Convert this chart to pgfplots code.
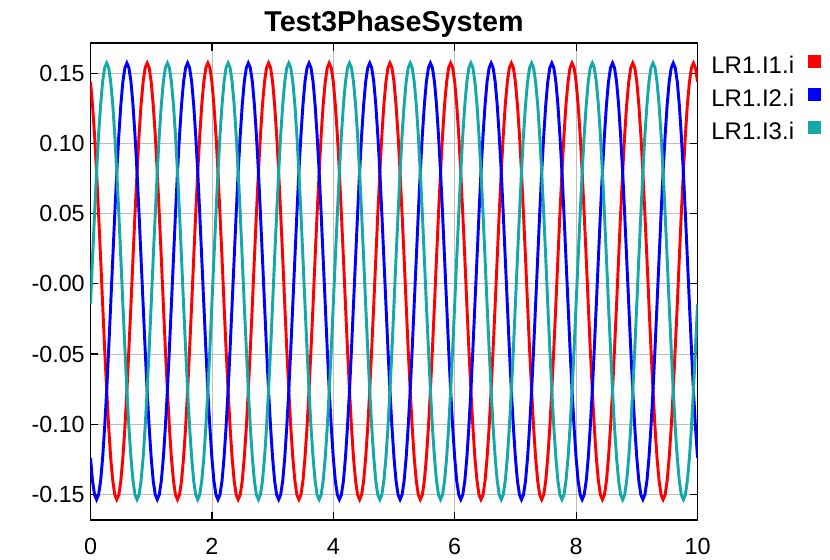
\documentclass[border=0pt]{standalone}
\usepackage{pgfplots}
\pgfplotsset{compat=1.18}
\usepackage{pgfplotstable}
\usepackage{fontspec}
\setmainfont{Liberation Sans}

\definecolor{ired}{RGB}{255,0,0}
\definecolor{iblue}{RGB}{0,0,255}
\definecolor{iteal}{RGB}{20,168,168}

% t, LR1.I1.i, LR1.I2.i, LR1.I3.i
\pgfplotstableread{
t i1 i2 i3
0.000 0.1439 -0.1240 -0.0145
0.033 0.1276 -0.1403 0.0181
0.067 0.1059 -0.1503 0.0499
0.100 0.0796 -0.1537 0.0796
0.133 0.0499 -0.1503 0.1059
0.167 0.0181 -0.1403 0.1276
0.200 -0.0145 -0.1240 0.1439
0.233 -0.0463 -0.1023 0.1539
0.267 -0.0760 -0.0760 0.1573
0.300 -0.1023 -0.0463 0.1539
0.333 -0.1240 -0.0145 0.1439
0.367 -0.1403 0.0181 0.1276
0.400 -0.1503 0.0499 0.1059
0.433 -0.1537 0.0796 0.0796
0.467 -0.1503 0.1059 0.0499
0.500 -0.1403 0.1276 0.0181
0.533 -0.1240 0.1439 -0.0145
0.567 -0.1023 0.1539 -0.0463
0.600 -0.0760 0.1573 -0.0760
0.633 -0.0463 0.1539 -0.1023
0.667 -0.0145 0.1439 -0.1240
0.700 0.0181 0.1276 -0.1403
0.733 0.0499 0.1059 -0.1503
0.767 0.0796 0.0796 -0.1537
0.800 0.1059 0.0499 -0.1503
0.833 0.1276 0.0181 -0.1403
0.867 0.1439 -0.0145 -0.1240
0.900 0.1539 -0.0463 -0.1023
0.933 0.1573 -0.0760 -0.0760
0.967 0.1539 -0.1023 -0.0463
1.000 0.1439 -0.1240 -0.0145
1.033 0.1276 -0.1403 0.0181
1.067 0.1059 -0.1503 0.0499
1.100 0.0796 -0.1537 0.0796
1.133 0.0499 -0.1503 0.1059
1.167 0.0181 -0.1403 0.1276
1.200 -0.0145 -0.1240 0.1439
1.233 -0.0463 -0.1023 0.1539
1.267 -0.0760 -0.0760 0.1573
1.300 -0.1023 -0.0463 0.1539
1.333 -0.1240 -0.0145 0.1439
1.367 -0.1403 0.0181 0.1276
1.400 -0.1503 0.0499 0.1059
1.433 -0.1537 0.0796 0.0796
1.467 -0.1503 0.1059 0.0499
1.500 -0.1403 0.1276 0.0181
1.533 -0.1240 0.1439 -0.0145
1.567 -0.1023 0.1539 -0.0463
1.600 -0.0760 0.1573 -0.0760
1.633 -0.0463 0.1539 -0.1023
1.667 -0.0145 0.1439 -0.1240
1.700 0.0181 0.1276 -0.1403
1.733 0.0499 0.1059 -0.1503
1.767 0.0796 0.0796 -0.1537
1.800 0.1059 0.0499 -0.1503
1.833 0.1276 0.0181 -0.1403
1.867 0.1439 -0.0145 -0.1240
1.900 0.1539 -0.0463 -0.1023
1.933 0.1573 -0.0760 -0.0760
1.967 0.1539 -0.1023 -0.0463
2.000 0.1439 -0.1240 -0.0145
2.033 0.1276 -0.1403 0.0181
2.067 0.1059 -0.1503 0.0499
2.100 0.0796 -0.1537 0.0796
2.133 0.0499 -0.1503 0.1059
2.167 0.0181 -0.1403 0.1276
2.200 -0.0145 -0.1240 0.1439
2.233 -0.0463 -0.1023 0.1539
2.267 -0.0760 -0.0760 0.1573
2.300 -0.1023 -0.0463 0.1539
2.333 -0.1240 -0.0145 0.1439
2.367 -0.1403 0.0181 0.1276
2.400 -0.1503 0.0499 0.1059
2.433 -0.1537 0.0796 0.0796
2.467 -0.1503 0.1059 0.0499
2.500 -0.1403 0.1276 0.0181
2.533 -0.1240 0.1439 -0.0145
2.567 -0.1023 0.1539 -0.0463
2.600 -0.0760 0.1573 -0.0760
2.633 -0.0463 0.1539 -0.1023
2.667 -0.0145 0.1439 -0.1240
2.700 0.0181 0.1276 -0.1403
2.733 0.0499 0.1059 -0.1503
2.767 0.0796 0.0796 -0.1537
2.800 0.1059 0.0499 -0.1503
2.833 0.1276 0.0181 -0.1403
2.867 0.1439 -0.0145 -0.1240
2.900 0.1539 -0.0463 -0.1023
2.933 0.1573 -0.0760 -0.0760
2.967 0.1539 -0.1023 -0.0463
3.000 0.1439 -0.1240 -0.0145
3.033 0.1276 -0.1403 0.0181
3.067 0.1059 -0.1503 0.0499
3.100 0.0796 -0.1537 0.0796
3.133 0.0499 -0.1503 0.1059
3.167 0.0181 -0.1403 0.1276
3.200 -0.0145 -0.1240 0.1439
3.233 -0.0463 -0.1023 0.1539
3.267 -0.0760 -0.0760 0.1573
3.300 -0.1023 -0.0463 0.1539
3.333 -0.1240 -0.0145 0.1439
3.367 -0.1403 0.0181 0.1276
3.400 -0.1503 0.0499 0.1059
3.433 -0.1537 0.0796 0.0796
3.467 -0.1503 0.1059 0.0499
3.500 -0.1403 0.1276 0.0181
3.533 -0.1240 0.1439 -0.0145
3.567 -0.1023 0.1539 -0.0463
3.600 -0.0760 0.1573 -0.0760
3.633 -0.0463 0.1539 -0.1023
3.667 -0.0145 0.1439 -0.1240
3.700 0.0181 0.1276 -0.1403
3.733 0.0499 0.1059 -0.1503
3.767 0.0796 0.0796 -0.1537
3.800 0.1059 0.0499 -0.1503
3.833 0.1276 0.0181 -0.1403
3.867 0.1439 -0.0145 -0.1240
3.900 0.1539 -0.0463 -0.1023
3.933 0.1573 -0.0760 -0.0760
3.967 0.1539 -0.1023 -0.0463
4.000 0.1439 -0.1240 -0.0145
4.033 0.1276 -0.1403 0.0181
4.067 0.1059 -0.1503 0.0499
4.100 0.0796 -0.1537 0.0796
4.133 0.0499 -0.1503 0.1059
4.167 0.0181 -0.1403 0.1276
4.200 -0.0145 -0.1240 0.1439
4.233 -0.0463 -0.1023 0.1539
4.267 -0.0760 -0.0760 0.1573
4.300 -0.1023 -0.0463 0.1539
4.333 -0.1240 -0.0145 0.1439
4.367 -0.1403 0.0181 0.1276
4.400 -0.1503 0.0499 0.1059
4.433 -0.1537 0.0796 0.0796
4.467 -0.1503 0.1059 0.0499
4.500 -0.1403 0.1276 0.0181
4.533 -0.1240 0.1439 -0.0145
4.567 -0.1023 0.1539 -0.0463
4.600 -0.0760 0.1573 -0.0760
4.633 -0.0463 0.1539 -0.1023
4.667 -0.0145 0.1439 -0.1240
4.700 0.0181 0.1276 -0.1403
4.733 0.0499 0.1059 -0.1503
4.767 0.0796 0.0796 -0.1537
4.800 0.1059 0.0499 -0.1503
4.833 0.1276 0.0181 -0.1403
4.867 0.1439 -0.0145 -0.1240
4.900 0.1539 -0.0463 -0.1023
4.933 0.1573 -0.0760 -0.0760
4.967 0.1539 -0.1023 -0.0463
5.000 0.1439 -0.1240 -0.0145
5.033 0.1276 -0.1403 0.0181
5.067 0.1059 -0.1503 0.0499
5.100 0.0796 -0.1537 0.0796
5.133 0.0499 -0.1503 0.1059
5.167 0.0181 -0.1403 0.1276
5.200 -0.0145 -0.1240 0.1439
5.233 -0.0463 -0.1023 0.1539
5.267 -0.0760 -0.0760 0.1573
5.300 -0.1023 -0.0463 0.1539
5.333 -0.1240 -0.0145 0.1439
5.367 -0.1403 0.0181 0.1276
5.400 -0.1503 0.0499 0.1059
5.433 -0.1537 0.0796 0.0796
5.467 -0.1503 0.1059 0.0499
5.500 -0.1403 0.1276 0.0181
5.533 -0.1240 0.1439 -0.0145
5.567 -0.1023 0.1539 -0.0463
5.600 -0.0760 0.1573 -0.0760
5.633 -0.0463 0.1539 -0.1023
5.667 -0.0145 0.1439 -0.1240
5.700 0.0181 0.1276 -0.1403
5.733 0.0499 0.1059 -0.1503
5.767 0.0796 0.0796 -0.1537
5.800 0.1059 0.0499 -0.1503
5.833 0.1276 0.0181 -0.1403
5.867 0.1439 -0.0145 -0.1240
5.900 0.1539 -0.0463 -0.1023
5.933 0.1573 -0.0760 -0.0760
5.967 0.1539 -0.1023 -0.0463
6.000 0.1439 -0.1240 -0.0145
6.033 0.1276 -0.1403 0.0181
6.067 0.1059 -0.1503 0.0499
6.100 0.0796 -0.1537 0.0796
6.133 0.0499 -0.1503 0.1059
6.167 0.0181 -0.1403 0.1276
6.200 -0.0145 -0.1240 0.1439
6.233 -0.0463 -0.1023 0.1539
6.267 -0.0760 -0.0760 0.1573
6.300 -0.1023 -0.0463 0.1539
6.333 -0.1240 -0.0145 0.1439
6.367 -0.1403 0.0181 0.1276
6.400 -0.1503 0.0499 0.1059
6.433 -0.1537 0.0796 0.0796
6.467 -0.1503 0.1059 0.0499
6.500 -0.1403 0.1276 0.0181
6.533 -0.1240 0.1439 -0.0145
6.567 -0.1023 0.1539 -0.0463
6.600 -0.0760 0.1573 -0.0760
6.633 -0.0463 0.1539 -0.1023
6.667 -0.0145 0.1439 -0.1240
6.700 0.0181 0.1276 -0.1403
6.733 0.0499 0.1059 -0.1503
6.767 0.0796 0.0796 -0.1537
6.800 0.1059 0.0499 -0.1503
6.833 0.1276 0.0181 -0.1403
6.867 0.1439 -0.0145 -0.1240
6.900 0.1539 -0.0463 -0.1023
6.933 0.1573 -0.0760 -0.0760
6.967 0.1539 -0.1023 -0.0463
7.000 0.1439 -0.1240 -0.0145
7.033 0.1276 -0.1403 0.0181
7.067 0.1059 -0.1503 0.0499
7.100 0.0796 -0.1537 0.0796
7.133 0.0499 -0.1503 0.1059
7.167 0.0181 -0.1403 0.1276
7.200 -0.0145 -0.1240 0.1439
7.233 -0.0463 -0.1023 0.1539
7.267 -0.0760 -0.0760 0.1573
7.300 -0.1023 -0.0463 0.1539
7.333 -0.1240 -0.0145 0.1439
7.367 -0.1403 0.0181 0.1276
7.400 -0.1503 0.0499 0.1059
7.433 -0.1537 0.0796 0.0796
7.467 -0.1503 0.1059 0.0499
7.500 -0.1403 0.1276 0.0181
7.533 -0.1240 0.1439 -0.0145
7.567 -0.1023 0.1539 -0.0463
7.600 -0.0760 0.1573 -0.0760
7.633 -0.0463 0.1539 -0.1023
7.667 -0.0145 0.1439 -0.1240
7.700 0.0181 0.1276 -0.1403
7.733 0.0499 0.1059 -0.1503
7.767 0.0796 0.0796 -0.1537
7.800 0.1059 0.0499 -0.1503
7.833 0.1276 0.0181 -0.1403
7.867 0.1439 -0.0145 -0.1240
7.900 0.1539 -0.0463 -0.1023
7.933 0.1573 -0.0760 -0.0760
7.967 0.1539 -0.1023 -0.0463
8.000 0.1439 -0.1240 -0.0145
8.033 0.1276 -0.1403 0.0181
8.067 0.1059 -0.1503 0.0499
8.100 0.0796 -0.1537 0.0796
8.133 0.0499 -0.1503 0.1059
8.167 0.0181 -0.1403 0.1276
8.200 -0.0145 -0.1240 0.1439
8.233 -0.0463 -0.1023 0.1539
8.267 -0.0760 -0.0760 0.1573
8.300 -0.1023 -0.0463 0.1539
8.333 -0.1240 -0.0145 0.1439
8.367 -0.1403 0.0181 0.1276
8.400 -0.1503 0.0499 0.1059
8.433 -0.1537 0.0796 0.0796
8.467 -0.1503 0.1059 0.0499
8.500 -0.1403 0.1276 0.0181
8.533 -0.1240 0.1439 -0.0145
8.567 -0.1023 0.1539 -0.0463
8.600 -0.0760 0.1573 -0.0760
8.633 -0.0463 0.1539 -0.1023
8.667 -0.0145 0.1439 -0.1240
8.700 0.0181 0.1276 -0.1403
8.733 0.0499 0.1059 -0.1503
8.767 0.0796 0.0796 -0.1537
8.800 0.1059 0.0499 -0.1503
8.833 0.1276 0.0181 -0.1403
8.867 0.1439 -0.0145 -0.1240
8.900 0.1539 -0.0463 -0.1023
8.933 0.1573 -0.0760 -0.0760
8.967 0.1539 -0.1023 -0.0463
9.000 0.1439 -0.1240 -0.0145
9.033 0.1276 -0.1403 0.0181
9.067 0.1059 -0.1503 0.0499
9.100 0.0796 -0.1537 0.0796
9.133 0.0499 -0.1503 0.1059
9.167 0.0181 -0.1403 0.1276
9.200 -0.0145 -0.1240 0.1439
9.233 -0.0463 -0.1023 0.1539
9.267 -0.0760 -0.0760 0.1573
9.300 -0.1023 -0.0463 0.1539
9.333 -0.1240 -0.0145 0.1439
9.367 -0.1403 0.0181 0.1276
9.400 -0.1503 0.0499 0.1059
9.433 -0.1537 0.0796 0.0796
9.467 -0.1503 0.1059 0.0499
9.500 -0.1403 0.1276 0.0181
9.533 -0.1240 0.1439 -0.0145
9.567 -0.1023 0.1539 -0.0463
9.600 -0.0760 0.1573 -0.0760
9.633 -0.0463 0.1539 -0.1023
9.667 -0.0145 0.1439 -0.1240
9.700 0.0181 0.1276 -0.1403
9.733 0.0499 0.1059 -0.1503
9.767 0.0796 0.0796 -0.1537
9.800 0.1059 0.0499 -0.1503
9.833 0.1276 0.0181 -0.1403
9.867 0.1439 -0.0145 -0.1240
9.900 0.1539 -0.0463 -0.1023
9.933 0.1573 -0.0760 -0.0760
9.967 0.1539 -0.1023 -0.0463
10.000 0.1439 -0.1240 -0.0145
}\currents

\begin{document}
\begin{tikzpicture}
\begin{axis}[
    scale only axis,
    width=455.25pt,
    height=357.75pt,
    xmin=0, xmax=10,
    ymin=-0.1683, ymax=0.1716,
    axis line style={black, line width=1.2pt},
    tick align=inside,
    major tick length=6pt,
    tick style={black, line width=0.9pt},
    grid=major,
    major grid style={gray!50, line width=0.6pt},
    xtick={0,2,4,6,8,10},
    xticklabels={0,2,4,6,8,10},
    ytick={-0.15,-0.1,-0.05,0,0.05,0.1,0.15},
    yticklabels={-0.15,-0.10,-0.05,-0.00,0.05,0.10,0.15},
    ticklabel style={font=\fontsize{17.5}{20}\selectfont},
    xticklabel style={yshift=-10pt},
    yticklabel style={xshift=-0.8pt},
    title={Test3PhaseSystem},
    title style={font=\bfseries\fontsize{21.5}{24}\selectfont, at={(0.5,1)}, anchor=base, yshift=3pt},
    legend plot pos=right,
    legend image code/.code={\fill[#1] (0pt,5.25pt) rectangle (7.5pt,12.75pt);},
    legend style={draw=none, fill=none, at={(rel axis cs:1,1)}, anchor=north west,
        xshift=8.4pt, yshift=-8.1pt, inner sep=0pt, outer sep=0pt,
        row sep=5.9pt, column sep=8.5pt,
        font=\fontsize{18}{20}\selectfont,
        cells={anchor=base west}},
]
\addplot[ired, line width=2.2pt] table[x=t, y=i1] {\currents};
\addlegendentry{LR1.I1.i}
\addplot[iblue, line width=2.2pt] table[x=t, y=i2] {\currents};
\addlegendentry{LR1.I2.i}
\addplot[iteal, line width=2.2pt] table[x=t, y=i3] {\currents};
\addlegendentry{LR1.I3.i}
\end{axis}
\pgfresetboundingbox
\path[use as bounding box] ([shift={(-67.875pt,-29.25pt)}]current axis.south west) rectangle ([shift={(99.375pt,32.25pt)}]current axis.north east);
\end{tikzpicture}
\end{document}
